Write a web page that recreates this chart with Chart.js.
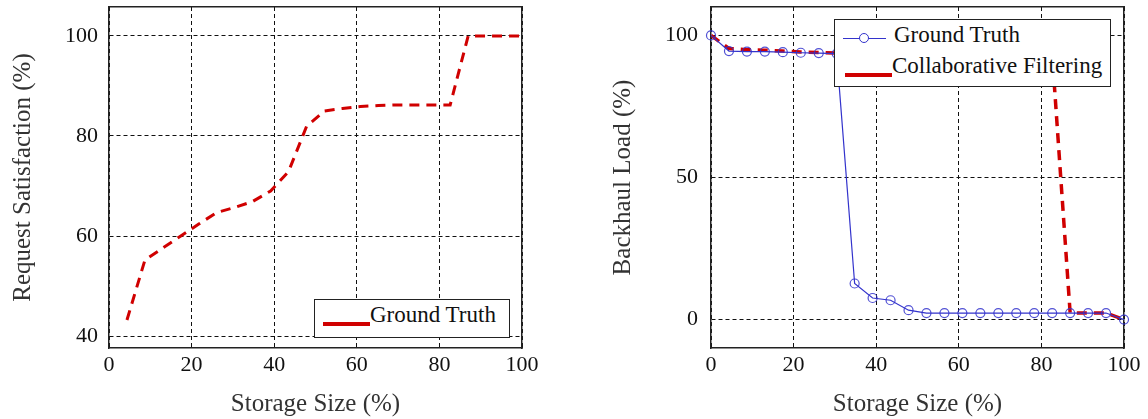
<!DOCTYPE html>
<html lang="en">
<head>
    <meta charset="UTF-8">
    <title>Storage Size vs Request Satisfaction and Backhaul Load</title>
    <script src="https://cdn.jsdelivr.net/npm/chart.js"></script>
    <style>
        body { margin: 0; background: #fff; }
        #wrap { position: relative; width: 1148px; height: 419px; font-family: "Liberation Serif", "Times New Roman", serif; }
        canvas { position: absolute; top: 0; }
        .legend-box { position: absolute; border: 1.5px solid #222; background: #fff; box-sizing: border-box; }
        .legend-text { position: absolute; font-size: 23px; line-height: 23px; color: #111; white-space: nowrap; }
        .swatch { position: absolute; }
    </style>
</head>
<body>
<div id="wrap">
    <canvas id="satisfactionChart" width="560" height="419" style="left:0"></canvas>
    <canvas id="backhaulChart" width="568" height="419" style="left:580px"></canvas>

    <!-- left legend -->
    <div class="legend-box" style="left:314px; top:299px; width:196px; height:39px;"></div>
    <div class="swatch" style="left:323px; top:322px; width:47px; height:4px; background:#d00000;"></div>
    <div class="legend-text" style="left:370px; top:303px;">Ground Truth</div>

    <!-- right legend -->
    <div class="legend-box" style="left:834px; top:19px; width:277px; height:68px;"></div>
    <div class="swatch" style="left:843px; top:37.5px; width:43px; height:1.2px; background:#3333cc;"></div>
    <div class="swatch" style="left:859px; top:33px; width:10px; height:10px; border:1.2px solid #3333cc; border-radius:50%; box-sizing:border-box; background:#fff;"></div>
    <div class="legend-text" style="left:894px; top:22.5px;">Ground Truth</div>
    <div class="swatch" style="left:845px; top:72.5px; width:47px; height:4px; background:#d00000;"></div>
    <div class="legend-text" style="left:892px; top:54px;">Collaborative Filtering</div>
</div>

<script>
    // storage size grid (%), 24 steps
    const storageSize = [0, 4.35, 8.7, 13.04, 17.39, 21.74, 26.09, 30.43, 34.78, 39.13, 43.48, 47.83,
                         52.17, 56.52, 60.87, 65.22, 69.57, 73.91, 78.26, 82.61, 86.96, 91.3, 95.65, 100];

    // left chart: request satisfaction (starts at the second storage step)
    const satisfactionX = [4.35, 8.7, 13.04, 17.39, 21.74, 26.09, 30.43, 34.78, 39.13, 43.48, 47.83,
                           52.17, 56.52, 60.87, 65.22, 69.57, 73.91, 78.26, 82.61, 86.96, 91.3, 95.65, 100];
    const satisfaction = [43.2, 55.2, 57.6, 60.0, 62.4, 64.7, 65.7, 66.9, 69.0, 72.9, 81.9,
                          85.0, 85.5, 85.9, 86.1, 86.2, 86.2, 86.2, 86.2, 100, 100, 100, 100];

    // right chart: backhaul load
    const backhaulTruth = [100, 94.5, 94.3, 94.3, 94.1, 93.9, 93.8, 93.6, 12.7, 7.6, 6.8, 3.3,
                           2.3, 2.3, 2.3, 2.3, 2.3, 2.3, 2.3, 2.3, 2.3, 2.3, 2.3, 0];
    const backhaulCF = [100, 95.4, 95.0, 94.8, 94.5, 94.2, 94.0, 93.8, 93.7, 93.6, 93.6, 93.5,
                        93.5, 93.5, 93.5, 93.5, 93.5, 93.5, 93.5, 93.5, 2.3, 2.3, 2.3, 0];

    const xTicks = [0, 20, 40, 60, 80, 100];
    const satisfactionTicks = [40, 60, 80, 100];
    const backhaulTicks = [0, 50, 100];

    const serif = "'Liberation Serif', 'Times New Roman', serif";

    function toPoints(xs, ys) {
        return xs.map((x, i) => ({ x: x, y: ys[i] }));
    }

    // pin the axis box size so the plot area lands where it should
    function fixSize(prop, size) {
        return function (scale) {
            scale[prop] = size;
            scale.paddingTop = 0; scale.paddingBottom = 0;
            scale.paddingLeft = 0; scale.paddingRight = 0;
        };
    }

    function useTicks(values) {
        return function (scale) { scale.ticks = values.map(v => ({ value: v })); };
    }

    function buildScales(cfg) {
        const border = { display: true, color: '#222', width: 1.5, dash: [4, 3] };
        const grid = { color: '#111', lineWidth: 1, drawTicks: false };
        return {
            x: {
                type: 'linear', position: 'bottom', min: 0, max: 100,
                afterBuildTicks: useTicks(xTicks),
                afterFit: fixSize('height', 71),
                grid: grid, border: border,
                ticks: { color: '#111', font: { family: serif, size: 22 }, padding: 4, maxRotation: 0 },
                title: { display: true, text: 'Storage Size (%)', color: '#333',
                         font: { family: serif, size: 25 }, padding: { top: 0, bottom: 0 } }
            },
            y: {
                type: 'linear', position: 'left', min: cfg.yMin, max: cfg.yMax,
                afterBuildTicks: useTicks(cfg.yTicks),
                afterFit: fixSize('width', cfg.leftWidth),
                grid: grid, border: border,
                ticks: { color: '#111', font: { family: serif, size: 22 }, padding: cfg.tickPad },
                title: { display: true, text: cfg.yTitle, color: '#333',
                         font: { family: serif, size: 25 }, padding: { top: cfg.titlePad, bottom: 0 } }
            },
            x2: {
                type: 'linear', position: 'top', min: 0, max: 100,
                afterFit: fixSize('height', 7),
                grid: { display: false }, ticks: { display: false },
                border: { display: true, color: '#222', width: 1.5 }
            },
            y2: {
                type: 'linear', position: 'right', min: cfg.yMin, max: cfg.yMax,
                afterFit: fixSize('width', cfg.rightWidth),
                grid: { display: false }, ticks: { display: false },
                border: { display: true, color: '#222', width: 1.5 }
            }
        };
    }

    const common = {
        responsive: false,
        animation: false,
        layout: { padding: 0 },
        plugins: { legend: { display: false }, tooltip: { enabled: false } }
    };

    new Chart(document.getElementById('satisfactionChart'), {
        type: 'line',
        data: {
            datasets: [{
                label: 'Ground Truth',
                data: toPoints(satisfactionX, satisfaction),
                borderColor: '#d00000',
                borderWidth: 3,
                borderDash: [10, 7],
                pointRadius: 0,
                tension: 0,
                fill: false
            }]
        },
        options: Object.assign({}, common, {
            scales: buildScales({
                yMin: 37.6, yMax: 105.8, yTicks: satisfactionTicks, yTitle: 'Request Satisfaction (%)',
                leftWidth: 109, rightWidth: 38, tickPad: 11, titlePad: 8
            })
        })
    });

    new Chart(document.getElementById('backhaulChart'), {
        type: 'line',
        data: {
            datasets: [{
                label: 'Ground Truth',
                data: toPoints(storageSize, backhaulTruth),
                borderColor: '#3333cc',
                borderWidth: 1.2,
                pointRadius: 4.5,
                pointBorderWidth: 1.2,
                pointBorderColor: 'rgba(51,51,204,0.85)',
                pointBackgroundColor: 'rgba(0,0,0,0)',
                tension: 0,
                fill: false,
                clip: false
            }, {
                label: 'Collaborative Filtering',
                data: toPoints(storageSize, backhaulCF),
                borderColor: '#d00000',
                borderWidth: 3.5,
                borderDash: [10, 7],
                pointRadius: 0,
                tension: 0,
                fill: false
            }]
        },
        options: Object.assign({}, common, {
            scales: buildScales({
                yMin: -10, yMax: 110, yTicks: backhaulTicks, yTitle: 'Backhaul Load (%)',
                leftWidth: 131, rightWidth: 24, tickPad: 13, titlePad: 28
            })
        })
    });
</script>
</body>
</html>
